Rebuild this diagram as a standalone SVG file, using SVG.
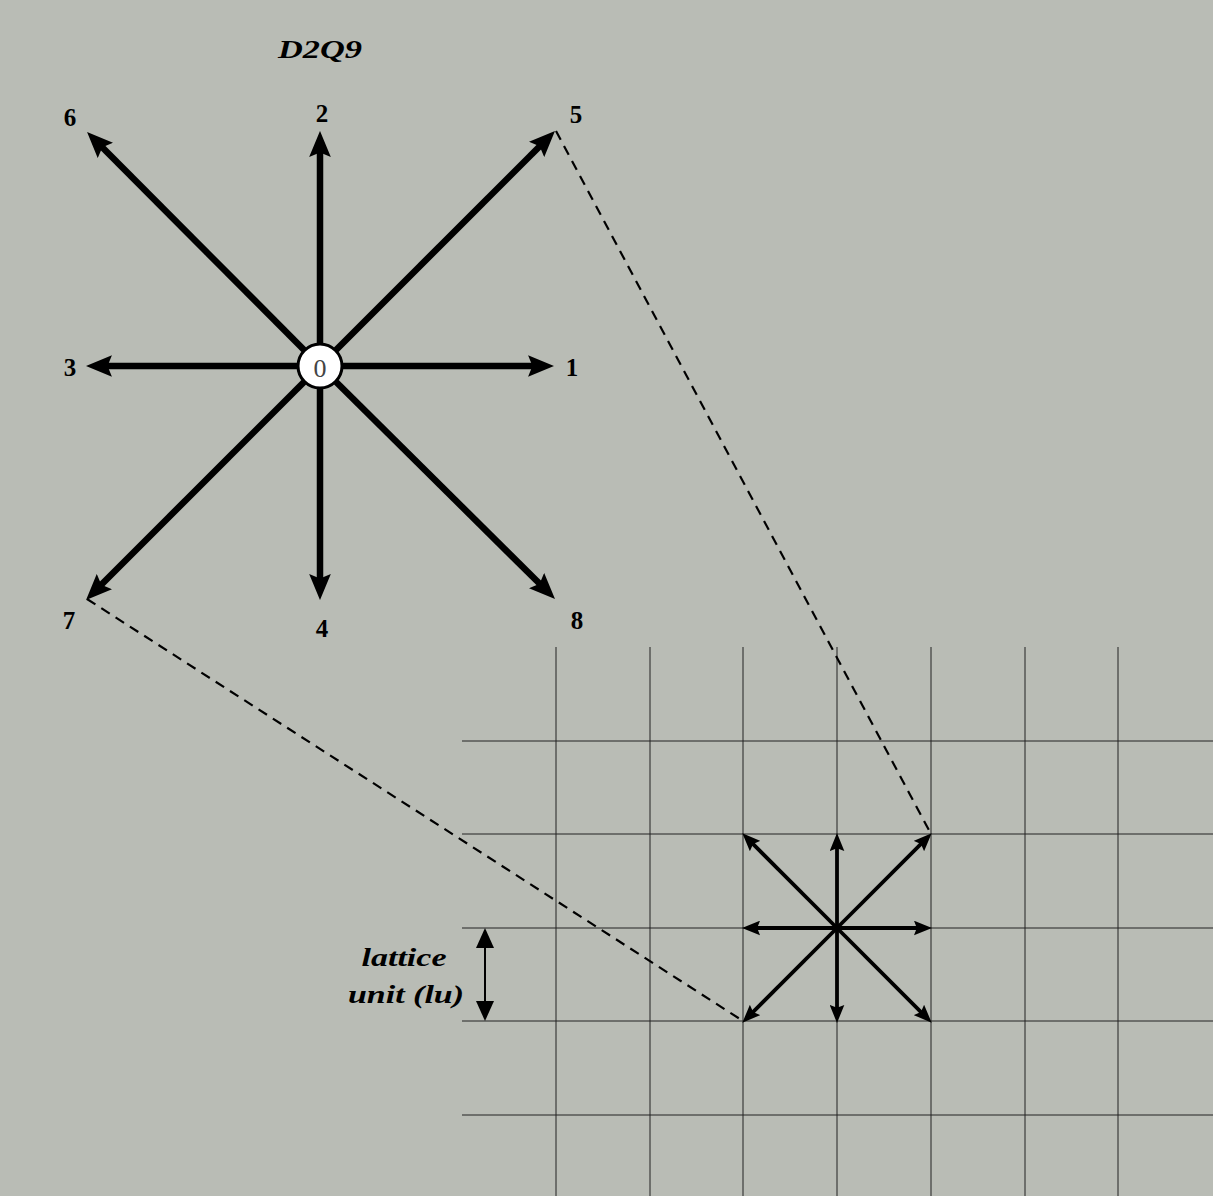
<svg xmlns="http://www.w3.org/2000/svg" width="1213" height="1196" viewBox="0 0 1213 1196">
<defs>
<style>
.lbl{font-family:"Liberation Serif","DejaVu Serif",serif;font-weight:bold;font-size:25px;fill:#000;text-anchor:middle;dominant-baseline:central}
.it{font-family:"Liberation Serif","DejaVu Serif",serif;font-weight:bold;font-style:italic;font-size:25px;fill:#000;text-anchor:middle}
.big{stroke:#000;stroke-width:6.5;fill:none;marker-end:url(#ah)}
.sm{stroke:#000;stroke-width:3.8;fill:none;marker-end:url(#as)}
.grid{stroke:#222;stroke-width:1;fill:none}
.dash{stroke:#000;stroke-width:2.2;stroke-dasharray:10 7;fill:none}
</style>
<marker id="ah" markerUnits="userSpaceOnUse" markerWidth="26" markerHeight="22" viewBox="0 0 24 20" refX="11" refY="10" orient="auto"><path d="M0,0 L24,10 L0,20 L4,10 z" fill="#000"/></marker>
<marker id="as" markerUnits="userSpaceOnUse" markerWidth="18" markerHeight="15" viewBox="0 0 16 13" refX="8" refY="6.5" orient="auto"><path d="M0,0 L16,6.5 L0,13 L2.5,6.5 z" fill="#000"/></marker>
<marker id="al" markerUnits="userSpaceOnUse" markerWidth="20" markerHeight="18" viewBox="0 0 20 18" refX="10" refY="9" orient="auto-start-reverse"><path d="M0,0 L20,9 L0,18 z" fill="#000"/></marker>
</defs>
<rect width="1213" height="1196" fill="#b9bcb5"/>
<g id="grid">
<path class="grid" d="M556,647V1196 M650,647V1196 M743,647V1196 M837,647V1196 M931,647V1196 M1025,647V1196 M1118,647V1196"/>
<path class="grid" d="M462,741H1213 M462,834H1213 M462,928H1213 M462,1021H1213 M462,1115H1213"/>
</g>
<g id="connectors">
<line class="dash" x1="556" y1="131" x2="931" y2="834"/>
<line class="dash" x1="87" y1="599" x2="743" y2="1021"/>
<line class="big" x1="320" y1="366" x2="540" y2="366"/>
<line class="big" x1="320" y1="366" x2="320" y2="145"/>
<line class="big" x1="320" y1="366" x2="100" y2="366"/>
<line class="big" x1="320" y1="366" x2="320" y2="586"/>
<line class="big" x1="320" y1="366" x2="545" y2="141"/>
<line class="big" x1="320" y1="366" x2="97" y2="142"/>
<line class="big" x1="320" y1="366" x2="96" y2="590"/>
<line class="big" x1="320" y1="366" x2="545" y2="589"/>
<line class="sm" x1="837" y1="928" x2="923" y2="928"/>
<line class="sm" x1="837" y1="928" x2="837" y2="842"/>
<line class="sm" x1="837" y1="928" x2="751" y2="928"/>
<line class="sm" x1="837" y1="928" x2="837" y2="1014"/>
<line class="sm" x1="837" y1="928" x2="925.3" y2="839.7"/>
<line class="sm" x1="837" y1="928" x2="748.7" y2="839.7"/>
<line class="sm" x1="837" y1="928" x2="748.7" y2="1016.3"/>
<line class="sm" x1="837" y1="928" x2="925.3" y2="1016.3"/>
<line x1="485" y1="938" x2="485" y2="1011" stroke="#000" stroke-width="2" marker-start="url(#al)" marker-end="url(#al)"/>
</g>
<g id="node0">
<circle cx="320" cy="366" r="22" fill="#fff" stroke="#000" stroke-width="3"/>
<text x="320" y="368" font-family="Liberation Serif, DejaVu Serif, serif" font-size="26" fill="#444" text-anchor="middle" dominant-baseline="central">0</text>
</g>
<g id="labels">
<text class="it" x="320" y="58" textLength="84" lengthAdjust="spacingAndGlyphs">D2Q9</text>
<text class="lbl" x="70" y="117">6</text>
<text class="lbl" x="322" y="113">2</text>
<text class="lbl" x="576" y="114">5</text>
<text class="lbl" x="70" y="367">3</text>
<text class="lbl" x="572" y="367">1</text>
<text class="lbl" x="69" y="620">7</text>
<text class="lbl" x="322" y="628">4</text>
<text class="lbl" x="577" y="620">8</text>
<text class="it" x="404" y="966" textLength="85" lengthAdjust="spacingAndGlyphs">lattice</text>
<text class="it" x="406" y="1003" textLength="116" lengthAdjust="spacingAndGlyphs">unit (lu)</text>
</g>
</svg>
